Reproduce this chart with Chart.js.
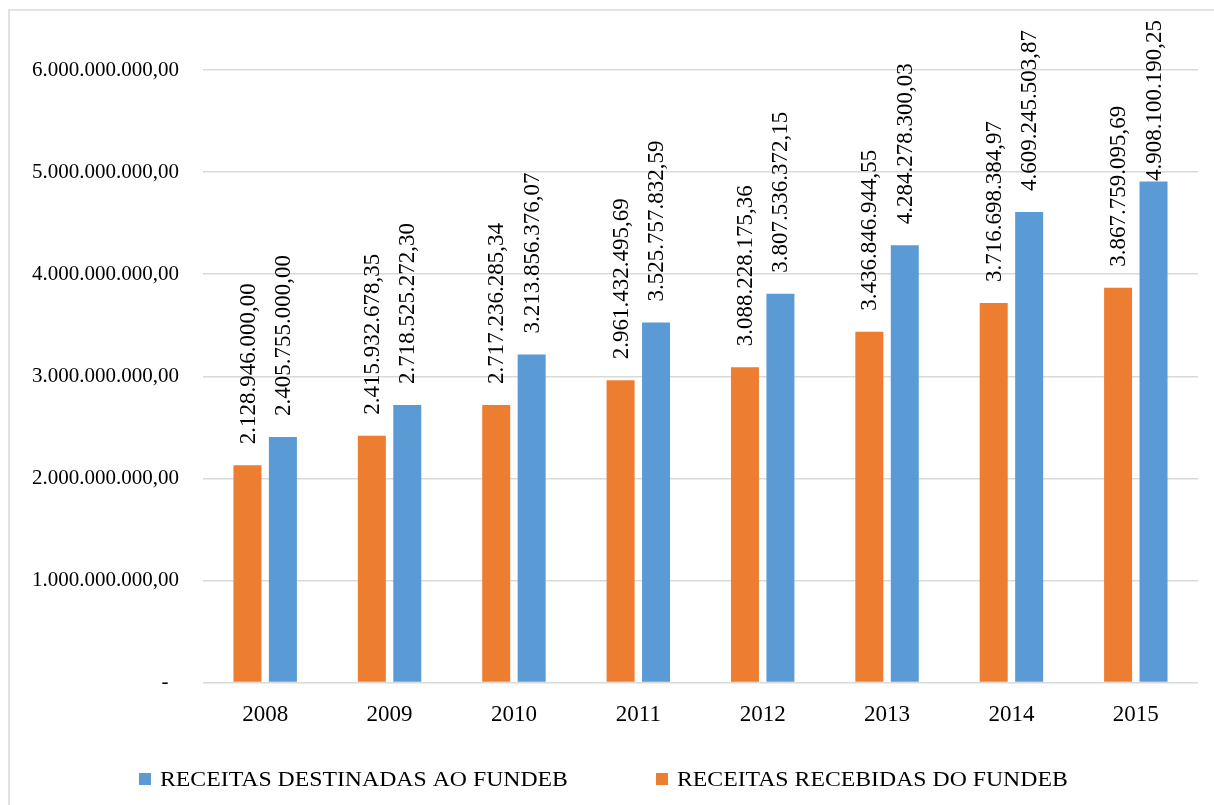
<!DOCTYPE html>
<html>
<head>
<meta charset="utf-8">
<title>FUNDEB</title>
<script src="https://cdn.jsdelivr.net/npm/chart.js@4.4.1/dist/chart.umd.min.js"></script>
<style>
  html, body { margin: 0; padding: 0; background: #fff; }
  #wrap { width: 1214px; height: 805px; position: relative; }
</style>
</head>
<body>
<div id="wrap"><canvas id="mycanvas"></canvas></div>
<script>
var anos = ['2008', '2009', '2010', '2011', '2012', '2013', '2014', '2015'];

var recebidas = [2128946000.00, 2415932678.35, 2717236285.34, 2961432495.69,
                 3088228175.36, 3436846944.55, 3716698384.97, 3867759095.69];

var destinadas = [2405755000.00, 2718525272.30, 3213856376.07, 3525757832.59,
                  3807536372.15, 4284278300.03, 4609245503.87, 4908100190.25];

var yTicks = [0, 1000000000, 2000000000, 3000000000, 4000000000, 5000000000, 6000000000];

var fonte = 'Liberation Serif, "Times New Roman", serif';

// 1234567.5 -> "1.234.567,50"
function formatBR(v) {
  var parts = v.toFixed(2).split('.');
  var inteiro = parts[0].replace(/\B(?=(\d{3})+(?!\d))/g, '.');
  return inteiro + ',' + parts[1];
}

// light grey frame around the whole chart
var moldura = {
  id: 'moldura',
  beforeDraw: function(chart) {
    var c = chart.ctx;
    c.save();
    c.strokeStyle = '#d9d9d9';
    c.lineWidth = 1.5;
    c.strokeRect(9, 10, 1400, 1000);
    c.restore();
  }
};

// vertical value labels on top of each bar
var rotulos = {
  id: 'rotulos',
  afterDatasetsDraw: function(chart) {
    var c = chart.ctx;
    c.save();
    c.font = '23px ' + fonte;
    c.fillStyle = '#000';
    c.textAlign = 'left';
    c.textBaseline = 'middle';
    chart.data.datasets.forEach(function(ds, i) {
      var meta = chart.getDatasetMeta(i);
      meta.data.forEach(function(bar, j) {
        var txt = formatBR(ds.data[j]);
        var w = c.measureText(txt).width;
        var inicio = bar.y - 21;
        // keep the text inside the frame
        if (inicio - w < 20) inicio = 20 + w;
        c.save();
        c.translate(bar.x + 1, inicio);
        c.rotate(-Math.PI / 2);
        c.fillText(txt, 0, 0);
        c.restore();
      });
    });
    c.restore();
  }
};

// legend at the bottom (destinadas first)
var legenda = {
  id: 'legenda',
  afterDraw: function(chart) {
    var c = chart.ctx;
    var ordem = [1, 0];
    var x = 139;
    var y = 779;
    var sx = 1.08;
    c.save();
    c.font = '22px ' + fonte;
    c.textBaseline = 'middle';
    c.textAlign = 'left';
    ordem.forEach(function(i) {
      var ds = chart.data.datasets[i];
      c.fillStyle = ds.backgroundColor;
      c.fillRect(x, y - 6, 12, 12);
      x += 21;
      var w = c.measureText(ds.label).width * sx;
      c.save();
      c.translate(x, y + 1);
      c.scale(sx, 1);
      c.fillStyle = '#000';
      c.fillText(ds.label, 0, 0);
      c.restore();
      x += w + 88;
    });
    c.restore();
  }
};

var chartdata = {
  labels: anos,
  datasets: [{
    label: 'RECEITAS RECEBIDAS DO FUNDEB',
    backgroundColor: '#ED7D31',
    data: recebidas,
    categoryPercentage: 0.57,
    barPercentage: 0.79
  }, {
    label: 'RECEITAS DESTINADAS AO FUNDEB',
    backgroundColor: '#5B9BD5',
    data: destinadas,
    categoryPercentage: 0.57,
    barPercentage: 0.79
  }]
};

var ctx = document.getElementById('mycanvas');

var barGraph = new Chart(ctx, {
  type: 'bar',
  data: chartdata,
  options: {
    responsive: true,
    maintainAspectRatio: false,
    animation: false,
    layout: { padding: { left: 0, right: 16, top: 70, bottom: 0 } },
    plugins: {
      legend: { display: false },
      tooltip: { enabled: false }
    },
    scales: {
      x: {
        grid: { display: false },
        border: { display: false },
        ticks: {
          color: '#000',
          padding: 11,
          font: { family: fonte, size: 23 }
        },
        afterFit: function(scale) { scale.height = 122.5; }
      },
      y: {
        min: 0,
        max: 6000000000,
        afterBuildTicks: function(scale) {
          scale.ticks = yTicks.map(function(v) { return { value: v }; });
        },
        grid: { color: '#d9d9d9', lineWidth: 1.5, drawTicks: false },
        border: { display: false },
        ticks: {
          color: '#000',
          padding: 24,
          font: { family: fonte, size: 21 },
          callback: function(v) { return v === 0 ? '-  ' : formatBR(v); }
        },
        afterFit: function(scale) { scale.width = 203; }
      }
    }
  },
  plugins: [moldura, rotulos, legenda]
});
</script>
</body>
</html>
